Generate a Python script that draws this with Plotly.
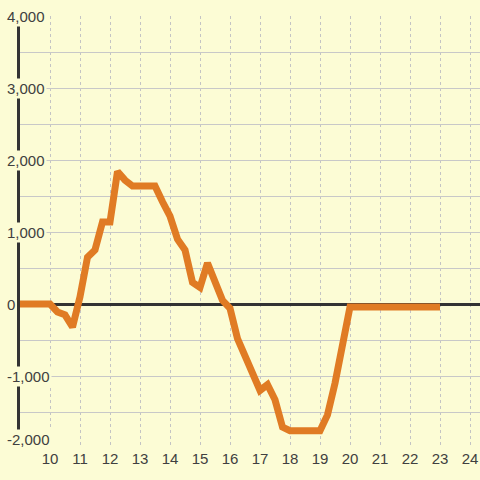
import plotly.graph_objects as go

# hours on the x axis, balance on the y axis
hours = [9, 10, 10.25, 10.5, 10.75, 11, 11.25, 11.5, 11.75, 12, 12.25, 12.5, 12.75,
         13, 13.25, 13.5, 13.75, 14, 14.25, 14.5, 14.75, 15, 15.25, 15.5, 15.75,
         16, 16.25, 16.5, 16.75, 17, 17.25, 17.5, 17.75, 18, 19, 19.25, 19.5,
         19.75, 20, 23]
balance = [0, 0, -110, -150, -320, 100, 650, 750, 1140, 1140, 1840, 1720, 1640,
           1640, 1640, 1640, 1420, 1220, 900, 750, 300, 230, 570, 280, 50,
           -60, -480, -720, -960, -1200, -1120, -1330, -1710, -1760, -1760, -1540, -1100,
           -560, -40, -40]

x_ticks = list(range(10, 25))
y_ticks = [4000, 3000, 2000, 1000, 0, -1000, -2000]
y_labels = ["4,000", "3,000", "2,000", "1,000", "0", "-1,000", "-2,000"]

bg = "#FCFCD5"
txt = "#404040"

fig = go.Figure()
fig.add_trace(go.Scatter(x=hours, y=balance, mode="lines",
                         line=dict(color="#E07B24", width=7), hoverinfo="none"))

# y labels sit over the axis line with a background box
for v, lab in zip(y_ticks, y_labels):
    fig.add_annotation(x=-15 / 460, xref="paper", y=v, yref="y", text=lab,
                       showarrow=False, xanchor="left",
                       yanchor="bottom" if v == -2000 else "middle",
                       yshift=-2 if v == -2000 else 0,
                       bgcolor=bg, borderpad=1,
                       font=dict(family="Liberation Sans, Arial", size=15, color=txt))

fig.update_layout(
    width=480, height=480,
    margin=dict(l=20, r=0, t=16, b=32),
    paper_bgcolor=bg, plot_bgcolor=bg,
    showlegend=False,
    font=dict(family="Liberation Sans, Arial", size=15, color=txt),
)
fig.update_xaxes(range=[9, 9 + 460 / 30], tickvals=x_ticks, showgrid=True,
                 gridcolor="#C4C4C4", griddash="dot", gridwidth=1,
                 zeroline=False, showline=False, ticks="", fixedrange=True)
fig.update_yaxes(range=[-2000, 4000], dtick=500, tick0=0, showgrid=True,
                 gridcolor="#C8C8C8", gridwidth=1, showticklabels=False,
                 zeroline=True, zerolinecolor="#333333", zerolinewidth=3,
                 showline=True, linecolor="#333333", linewidth=3, ticks="",
                 fixedrange=True)

fig.write_html("out.html", config={"displayModeBar": False},
               post_script="document.body.style.margin='0';document.body.style.overflow='hidden';")
